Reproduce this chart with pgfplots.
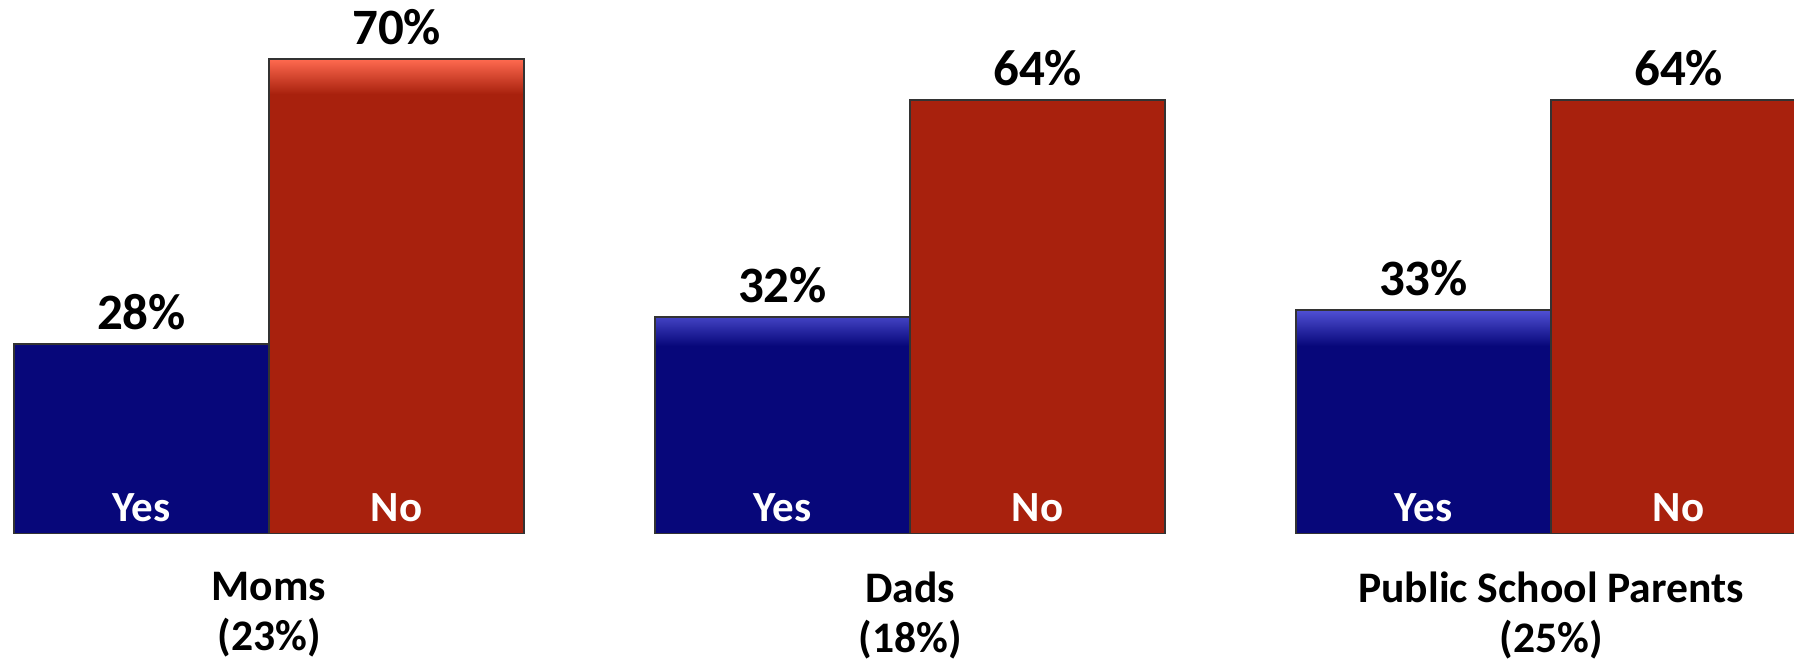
\documentclass[border=0pt]{standalone}
\usepackage{fontspec}
\setmainfont{Carlito}
\usepackage{pgfplots}
\pgfplotsset{compat=1.18}
\definecolor{yesbody}{HTML}{07077A}
\definecolor{yestop}{HTML}{5050D4}
\definecolor{nobody}{HTML}{A8210D}
\definecolor{notop}{HTML}{FF6A50}
\pgfdeclareverticalshading{yesshade}{100bp}{color(0bp)=(yesbody); color(67bp)=(yesbody); color(75bp)=(yestop); color(100bp)=(yestop)}
\pgfdeclareverticalshading{noshade}{100bp}{color(0bp)=(nobody); color(71.3bp)=(nobody); color(75bp)=(notop); color(100bp)=(notop)}
\begin{document}
\begin{tikzpicture}
\begin{axis}[
  at={(0,0)}, anchor=south west,
  scale only axis, width=897pt, height=267pt,
  xmin=-0.4197, xmax=2.379, ymin=0, ymax=78.7,
  axis line style={draw=none},
  tick style={draw=none},
  major tick length=0pt,
  ytick=\empty,
  xtick={0,1,2},
  xticklabels={{Moms\\(23\%)},{Dads\\(18\%)},{Public School Parents\\(25\%)}},
  xticklabel style={align=center, inner sep=0pt, anchor=north, yshift=-19pt,
    font=\bfseries\fontsize{21.8}{25}\selectfont},
  ybar, bar width=0.398, bar shift=0pt,
  /pgf/number format/assume math mode=true,
  nodes near coords={\pgfmathprintnumber{\pgfplotspointmeta}\%},
  nodes near coords style={font=\bfseries\fontsize{25.5}{25.5}\selectfont, anchor=south, inner sep=0pt, yshift=6.5pt, text=black},
]
\addplot[shade, shading=yesshade, draw=black!80, line width=1pt] coordinates {(-0.199,28) (0.801,32) (1.801,33)};
\addplot[shade, shading=noshade, draw=black!80, line width=1pt] coordinates {(0.199,70) (1.199,64) (2.199,64)};
\foreach \g in {0,1,2} {
  \edef\tmp{\noexpand\node[anchor=base, text=white, font=\noexpand\bfseries\noexpand\fontsize{21.5}{21.5}\noexpand\selectfont, yshift=6pt] at (axis cs:\g-0.199,0) {Yes};
  \noexpand\node[anchor=base, text=white, font=\noexpand\bfseries\noexpand\fontsize{21.5}{21.5}\noexpand\selectfont, yshift=6pt] at (axis cs:\g+0.199,0) {No};}
  \tmp
}
\end{axis}
\pgfresetboundingbox
\path[use as bounding box] (0,-64pt) rectangle (897pt,267pt);
\end{tikzpicture}
\end{document}
